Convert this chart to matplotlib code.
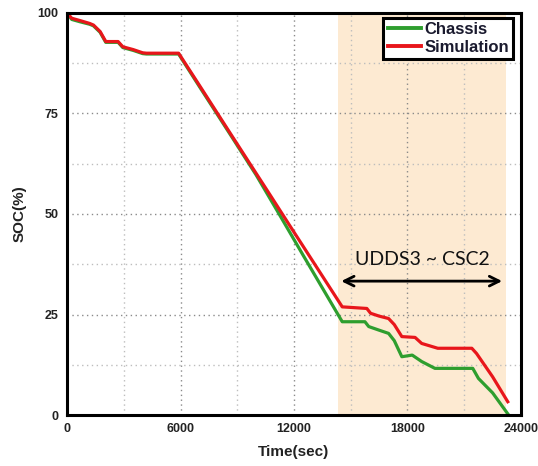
import matplotlib
matplotlib.use("Agg")
import matplotlib.pyplot as plt
from matplotlib.ticker import MultipleLocator

# ---- data ----
sim_t = [0, 250, 700, 1200, 1400, 1750, 2050, 2700, 2950, 3500, 4000, 4200, 5900,
         7000, 8750, 10700, 11750, 13000, 14550, 15850, 16050, 16500, 17000, 17300,
         17700, 18400, 18750, 19600, 21400, 21650, 22500, 23300]
sim_soc = [100, 98.7, 98.1, 97.4, 97.0, 95.4, 92.9, 92.9, 91.6, 90.9, 90.1, 90.0, 90.0,
           82.0, 69.2, 55.0, 47.3, 38.2, 26.9, 26.5, 25.3, 24.6, 24.0, 22.5,
           19.5, 19.3, 17.8, 16.6, 16.6, 15.3, 9.5, 3.3]

chs_t = [0, 250, 700, 1200, 1400, 1750, 2050, 2700, 2950, 3500, 4000, 4200, 5900,
         7000, 8750, 10000, 11200, 12500, 13600, 14550, 15750, 15950, 16500, 17000, 17300,
         17700, 18250, 18750, 19450, 21450, 21750, 22500, 23300]
chs_soc = [100, 98.4, 97.8, 97.2, 96.8, 95.2, 92.7, 92.7, 91.4, 90.7, 89.9, 89.8, 89.8,
           81.7, 68.9, 59.7, 50.1, 39.6, 30.8, 23.2, 23.2, 22.0, 21.1, 20.3, 18.5,
           14.5, 14.9, 13.3, 11.6, 11.6, 9.1, 5.5, 0.3]

span = [14300, 23200]
arrow_y = 33.3
region_label = "UDDS3 ~ CSC2"
xticks = [0, 6000, 12000, 18000, 24000]
yticks = [0, 25, 50, 75, 100]

# ---- figure ----
fig = plt.figure(figsize=(5.38, 4.66), dpi=100)
ax = fig.add_axes([67/538, 1-415/466, 454/538, 402/466])
ax.set_xlim(0, 24000)
ax.set_ylim(0, 100)

ax.axvspan(span[0], span[1], color="#FDEAD2", zorder=0, lw=0)

ax.xaxis.set_major_locator(MultipleLocator(6000))
ax.xaxis.set_minor_locator(MultipleLocator(3000))
ax.yaxis.set_major_locator(MultipleLocator(25))
ax.yaxis.set_minor_locator(MultipleLocator(12.5))
ax.grid(True, which="major", color="#8a8a8a", linestyle=(0, (1, 2.5)), lw=1.0, zorder=0.5)
ax.grid(True, which="minor", color="#bdbdbd", linestyle=(0, (1, 2.5)), lw=1.0, zorder=0.5)

ax.plot(chs_t, chs_soc, color="#2E9E2E", lw=2.3, label="Chassis", zorder=3)
ax.plot(sim_t, sim_soc, color="#E8161B", lw=2.3, label="Simulation", zorder=4)

ax.set_xticks(xticks)
ax.set_yticks(yticks)
ax.tick_params(which="both", length=0, pad=6)
for lab in ax.get_xticklabels() + ax.get_yticklabels():
    lab.set_fontfamily("Liberation Sans")
    lab.set_fontweight("bold")
    lab.set_fontsize(9)
    lab.set_color("#222222")

ax.set_xlabel("Time(sec)", fontfamily="Liberation Sans", fontweight="bold",
              fontsize=11, color="#222222", labelpad=7)
ax.set_ylabel("SOC(%)", fontfamily="Liberation Sans", fontweight="bold",
              fontsize=11, color="#222222", labelpad=8)

for s in ax.spines.values():
    s.set_linewidth(2.2)
    s.set_color("black")
    s.set_zorder(5)

ax.annotate("", xy=(span[0] + 50, arrow_y), xytext=(span[1] - 50, arrow_y),
            arrowprops=dict(arrowstyle="<->,head_length=0.7,head_width=0.35",
                            color="black", lw=2.0), zorder=6)
ax.text((span[0] + span[1]) / 2 + 50, arrow_y + 5.4, region_label,
        fontfamily="Lato", fontsize=14, ha="center", va="center", color="#111111", zorder=6)

leg = ax.legend(loc="upper right", bbox_to_anchor=((513-67)/454, (415-18)/402),
                borderaxespad=0, fancybox=False, framealpha=1, edgecolor="black",
                prop={"family": "Liberation Sans", "weight": "bold", "size": 12},
                handlelength=2.0, handletextpad=0.2, borderpad=0.25, labelspacing=0.15)
leg.get_frame().set_linewidth(2.2)
leg.set_zorder(7)
for line in leg.get_lines():
    line.set_linewidth(2.8)
for t in leg.get_texts():
    t.set_color("#1a1a2e")

fig.savefig("out.png", dpi=100)
